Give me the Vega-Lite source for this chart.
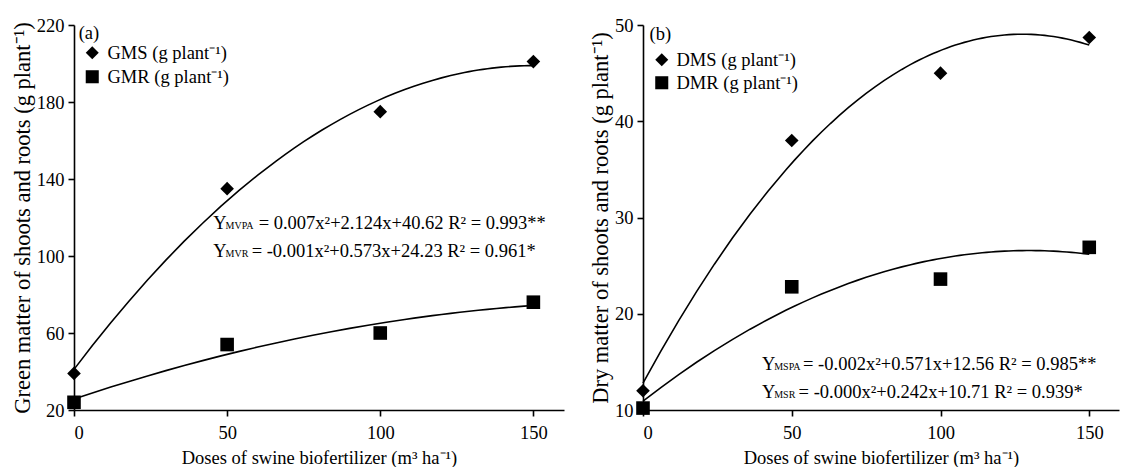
{
  "$schema": "https://vega.github.io/schema/vega-lite/v6.json",
  "padding": {"left": 11, "top": 16, "right": 2, "bottom": 0},
  "background": "white",
  "config": {
    "font": "Liberation Serif",
    "view": {"stroke": null},
    "axis": {
      "grid": false,
      "domainColor": "black",
      "domainWidth": 1.6,
      "tickColor": "black",
      "tickWidth": 1.6,
      "tickSize": 6,
      "labelColor": "black",
      "labelFont": "Liberation Serif",
      "labelFontSize": 18.5,
      "titleFont": "Liberation Serif",
      "titleFontSize": 18.5,
      "titleFontWeight": "normal",
      "titleColor": "black"
    },
    "axisY": {"titleFontSize": 22.5, "labelPadding": 4, "titlePadding": 2},
    "axisX": {"labelPadding": 7, "titlePadding": 7},
    "legend": {
      "labelFont": "Liberation Serif",
      "labelFontSize": 18.5,
      "labelColor": "black"
    }
  },
  "spacing": 25,
  "resolve": {"scale": {"shape": "independent"}, "legend": {"shape": "independent"}},
  "hconcat": [
    {
      "width": 490,
      "height": 385,
      "data": {"values": [
        {"dose": 0, "value": 39, "series": "GMS (g plant⁻¹)"},
        {"dose": 50, "value": 135, "series": "GMS (g plant⁻¹)"},
        {"dose": 100, "value": 175, "series": "GMS (g plant⁻¹)"},
        {"dose": 150, "value": 201, "series": "GMS (g plant⁻¹)"},
        {"dose": 0, "value": 24, "series": "GMR (g plant⁻¹)"},
        {"dose": 50, "value": 54, "series": "GMR (g plant⁻¹)"},
        {"dose": 100, "value": 60, "series": "GMR (g plant⁻¹)"},
        {"dose": 150, "value": 76, "series": "GMR (g plant⁻¹)"}
      ]},
      "layer": [
        {
          "transform": [{"regression": "value", "on": "dose", "method": "poly", "order": 2, "groupby": ["series"]}],
          "mark": {"type": "line", "color": "black", "strokeWidth": 1.6, "clip": false},
          "encoding": {
            "x": {"field": "dose", "type": "quantitative", "scale": {"domain": [0, 150]},
                  "axis": {"values": [0, 50, 100, 150], "title": "Doses of swine biofertilizer (m³ ha⁻¹)"}},
            "y": {"field": "value", "type": "quantitative", "scale": {"domain": [20, 220]},
                  "axis": {"values": [20, 60, 100, 140, 180, 220], "title": "Green matter of shoots and roots (g plant⁻¹)"}},
            "detail": {"field": "series"}
          }
        },
        {
          "mark": {"type": "point", "filled": true, "color": "black", "opacity": 1, "size": 185, "clip": false},
          "encoding": {
            "x": {"field": "dose", "type": "quantitative"},
            "y": {"field": "value", "type": "quantitative"},
            "shape": {"field": "series", "type": "nominal",
                      "scale": {"domain": ["GMS (g plant⁻¹)", "GMR (g plant⁻¹)"], "range": ["diamond", "square"]},
                      "legend": {"title": null, "orient": "none", "legendX": 9, "legendY": 18.5, "padding": 0,
                                 "symbolSize": 170, "symbolFillColor": "black", "symbolStrokeWidth": 0, "symbolOpacity": 1,
                                 "labelOffset": 6, "rowPadding": 5}}
          }
        },
        {
          "data": {"values": [
            {"x": 1.53, "y": 216.1, "t": "(a)"}
          ]},
          "mark": {"type": "text", "align": "left", "baseline": "middle", "fontSize": 18.5, "color": "black", "font": "Liberation Serif"},
          "encoding": {
            "x": {"field": "x", "type": "quantitative"},
            "y": {"field": "y", "type": "quantitative"},
            "text": {"field": "t"}
          }
        },
        {
          "data": {"values": [
            {"x": 45.5, "y": 114.0, "t": "Y"},
            {"x": 60.3, "y": 114.0, "t": "= 0.007x²+2.124x+40.62 R² = 0.993**"},
            {"x": 45.5, "y": 99.5, "t": "Y"},
            {"x": 58.0, "y": 99.5, "t": "= -0.001x²+0.573x+24.23 R² = 0.961*"}
          ]},
          "mark": {"type": "text", "align": "left", "baseline": "alphabetic", "fontSize": 18.5, "color": "black", "font": "Liberation Serif"},
          "encoding": {
            "x": {"field": "x", "type": "quantitative"},
            "y": {"field": "y", "type": "quantitative"},
            "text": {"field": "t"}
          }
        },
        {
          "data": {"values": [
            {"x": 49.5, "y": 114.2, "t": "MVPA"},
            {"x": 49.5, "y": 99.7, "t": "MVR"}
          ]},
          "mark": {"type": "text", "align": "left", "baseline": "alphabetic", "fontSize": 10, "color": "black", "font": "Liberation Serif"},
          "encoding": {
            "x": {"field": "x", "type": "quantitative"},
            "y": {"field": "y", "type": "quantitative"},
            "text": {"field": "t"}
          }
        }
      ]
    },
    {
      "width": 476,
      "height": 385,
      "data": {"values": [
        {"dose": 0, "value": 12.0, "series": "DMS (g plant⁻¹)"},
        {"dose": 50, "value": 38.0, "series": "DMS (g plant⁻¹)"},
        {"dose": 100, "value": 45.0, "series": "DMS (g plant⁻¹)"},
        {"dose": 150, "value": 48.7, "series": "DMS (g plant⁻¹)"},
        {"dose": 0, "value": 10.2, "series": "DMR (g plant⁻¹)"},
        {"dose": 50, "value": 22.8, "series": "DMR (g plant⁻¹)"},
        {"dose": 100, "value": 23.6, "series": "DMR (g plant⁻¹)"},
        {"dose": 150, "value": 26.9, "series": "DMR (g plant⁻¹)"}
      ]},
      "layer": [
        {
          "transform": [{"regression": "value", "on": "dose", "method": "poly", "order": 2, "groupby": ["series"]}],
          "mark": {"type": "line", "color": "black", "strokeWidth": 1.6, "clip": false},
          "encoding": {
            "x": {"field": "dose", "type": "quantitative", "scale": {"domain": [0, 150]},
                  "axis": {"values": [0, 50, 100, 150], "title": "Doses of swine biofertilizer (m³ ha⁻¹)"}},
            "y": {"field": "value", "type": "quantitative", "scale": {"domain": [10, 50]},
                  "axis": {"values": [10, 20, 30, 40, 50], "title": "Dry matter of shoots and roots (g plant⁻¹)"}},
            "detail": {"field": "series"}
          }
        },
        {
          "mark": {"type": "point", "filled": true, "color": "black", "opacity": 1, "size": 185, "clip": false},
          "encoding": {
            "x": {"field": "dose", "type": "quantitative"},
            "y": {"field": "value", "type": "quantitative"},
            "shape": {"field": "series", "type": "nominal",
                      "scale": {"domain": ["DMS (g plant⁻¹)", "DMR (g plant⁻¹)"], "range": ["diamond", "square"]},
                      "legend": {"title": null, "orient": "none", "legendX": 9.5, "legendY": 25.5, "padding": 0,
                                 "symbolSize": 170, "symbolFillColor": "black", "symbolStrokeWidth": 0, "symbolOpacity": 1,
                                 "labelOffset": 5.5, "rowPadding": 4}}
          }
        },
        {
          "data": {"values": [
            {"x": 2.2, "y": 49.06, "t": "(b)"}
          ]},
          "mark": {"type": "text", "align": "left", "baseline": "middle", "fontSize": 18.5, "color": "black", "font": "Liberation Serif"},
          "encoding": {
            "x": {"field": "x", "type": "quantitative"},
            "y": {"field": "y", "type": "quantitative"},
            "text": {"field": "t"}
          }
        },
        {
          "data": {"values": [
            {"x": 40.0, "y": 14.17, "t": "Y"},
            {"x": 53.8, "y": 14.17, "t": "= -0.002x²+0.571x+12.56 R² = 0.985**"},
            {"x": 40.0, "y": 11.25, "t": "Y"},
            {"x": 52.3, "y": 11.25, "t": "= -0.000x²+0.242x+10.71 R² = 0.939*"}
          ]},
          "mark": {"type": "text", "align": "left", "baseline": "alphabetic", "fontSize": 18.5, "color": "black", "font": "Liberation Serif"},
          "encoding": {
            "x": {"field": "x", "type": "quantitative"},
            "y": {"field": "y", "type": "quantitative"},
            "text": {"field": "t"}
          }
        },
        {
          "data": {"values": [
            {"x": 44.1, "y": 14.2, "t": "MSPA"},
            {"x": 44.1, "y": 11.28, "t": "MSR"}
          ]},
          "mark": {"type": "text", "align": "left", "baseline": "alphabetic", "fontSize": 10, "color": "black", "font": "Liberation Serif"},
          "encoding": {
            "x": {"field": "x", "type": "quantitative"},
            "y": {"field": "y", "type": "quantitative"},
            "text": {"field": "t"}
          }
        }
      ]
    }
  ]
}
